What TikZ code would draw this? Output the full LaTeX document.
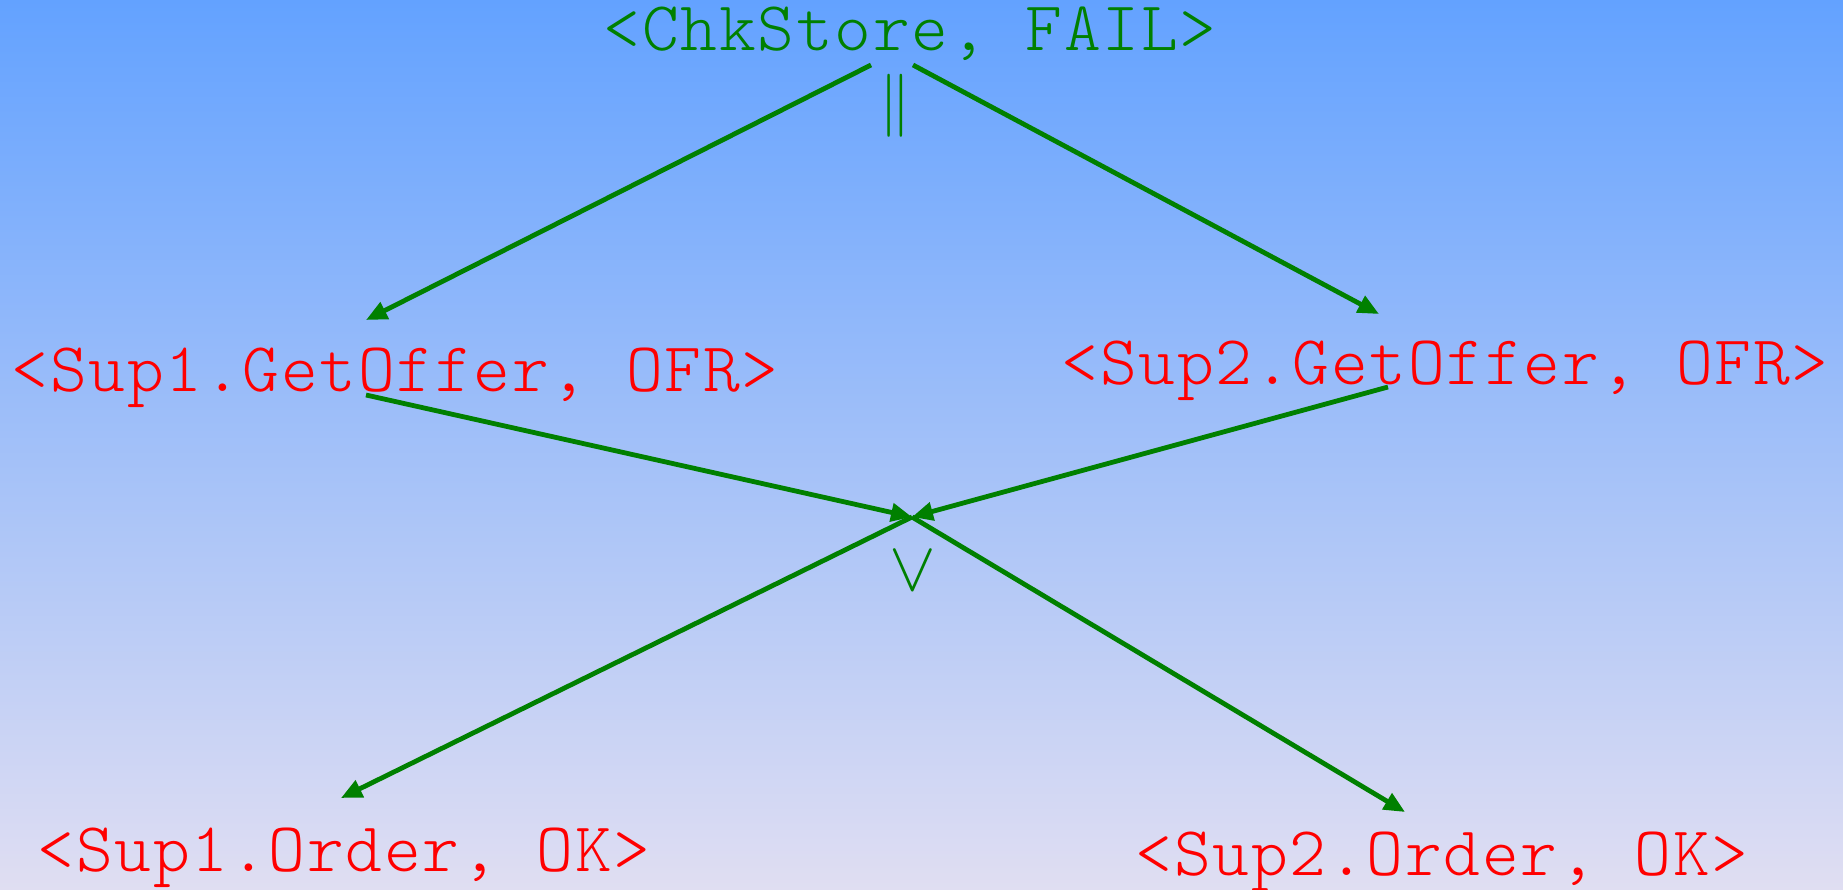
\RequirePackage{fix-cm}
\documentclass[tikz,border=0pt]{standalone}
\usepackage{fontspec}
\usepackage{tikz}
\usetikzlibrary{arrows.meta}
\newfontfamily\labelfont[LetterSpace=2.5]{lmmonolt10-regular.otf}
\definecolor{okgreen}{RGB}{0,128,0}
\definecolor{errred}{RGB}{255,0,0}

\begin{document}
\begin{tikzpicture}[x=1pt,y=-1pt,
    every node/.style={inner sep=0,anchor=base,font=\labelfont\fontsize{70}{76}\selectfont},
    fault/.style={text=okgreen},
    act/.style={text=errred},
    op/.style={text=okgreen,font=\fontsize{#1}{#1}\selectfont},
    flow/.style={draw=okgreen,line width=4.8pt,-{Triangle[length=21pt,width=18pt]}}]
  \useasboundingbox (0,0) rectangle (1843,890);
  \shade[top color={rgb,255:red,99;green,162;blue,255},
         middle color={rgb,255:red,132;green,192;blue,255},
         bottom color={rgb,255:red,224;green,222;blue,242}] (0,0) rectangle (1843,890);

  % labels
  \node[fault] (chk) at (910,51) {<ChkStore, FAIL>};
  \node[act] (sup1offer) at (395,391) {<Sup1.GetOffer, OFR>};
  \node[act] (sup2offer) at (1445,384) {<Sup2.GetOffer, OFR>};
  \node[act] (sup1order) at (344,871) {<Sup1.Order, OK>};
  \node[act] (sup2order) at (1442,875) {<Sup2.Order, OK>};
  \node[op=63] (par) at (895,122) {$\|$};
  \node[op=70] (alt) at (913,590) {$\vee$};

  % connector ends
  \coordinate (chkL) at (871,65);
  \coordinate (chkR) at (913,65);
  \coordinate (o1in) at (366,320);
  \coordinate (o2in) at (1379,314);
  \coordinate (o1out) at (366,395);
  \coordinate (o2out) at (1388,387);
  \coordinate (join) at (912,517);
  \coordinate (r1in) at (341,798);
  \coordinate (r2in) at (1405,812);

  \draw[flow] (chkL) -- (o1in);
  \draw[flow] (chkR) -- (o2in);
  \draw[flow] (o1out) -- (join);
  \draw[flow] (o2out) -- (join);
  \draw[flow] (join) -- (r1in);
  \draw[flow] (join) -- (r2in);
\end{tikzpicture}
\end{document}
